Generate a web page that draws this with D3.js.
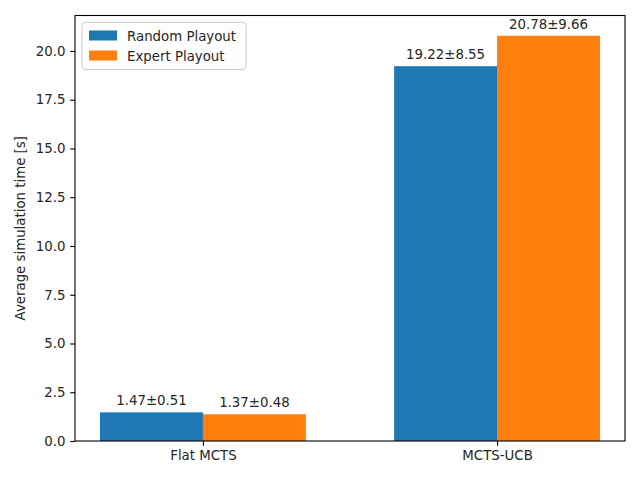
<!DOCTYPE html>
<html lang="en">
<head>
  <meta charset="utf-8">
  <script src="https://d3js.org/d3.v7.min.js"></script>
  <style>
    body { margin: 0; background: #fff; }
    text { font-family: "DejaVu Sans", sans-serif; fill: #262626; }
  </style>
</head>
<body>
  <script>
    // data
    var categories = ["Flat MCTS", "MCTS-UCB"];
    var seriesNames = ["Random Playout", "Expert Playout"];
    var randomMeans = [1.47, 19.22];
    var randomStd = [0.51, 8.55];
    var expertMeans = [1.37, 20.78];
    var expertStd = [0.48, 9.66];
    var yTicks = [0, 2.5, 5, 7.5, 10, 12.5, 15, 17.5, 20];
    var colors = ["#1f77b4", "#ff7f0e"];

    const W = 640, H = 480;
    const m = { left: 75, right: 15, top: 15.5, bottom: 39 };
    const iw = W - m.left - m.right, ih = H - m.top - m.bottom;
    const barW = 0.35;

    const svg = d3.select("body").append("svg")
      .attr("width", W).attr("height", H);
    const g = svg.append("g").attr("transform", "translate(" + m.left + "," + m.top + ")");

    // matplotlib-like 5% margins
    const xMin = -barW, xMax = categories.length - 1 + barW;
    const xPad = (xMax - xMin) * 0.05;
    const x = d3.scaleLinear().domain([xMin - xPad, xMax + xPad]).range([0, iw]);
    const yTop = d3.max(randomMeans.concat(expertMeans)) * 1.05;
    const y = d3.scaleLinear().domain([0, yTop]).range([ih, 0]);

    var series = [
      { name: seriesNames[0], means: randomMeans, std: randomStd, offset: -barW / 2 },
      { name: seriesNames[1], means: expertMeans, std: expertStd, offset: barW / 2 }
    ];

    series.forEach(function (s, si) {
      categories.forEach(function (c, i) {
        var cx = i + s.offset;
        g.append("rect")
          .attr("x", x(cx - barW / 2))
          .attr("width", x(cx + barW / 2) - x(cx - barW / 2))
          .attr("y", y(s.means[i]))
          .attr("height", y(0) - y(s.means[i]))
          .attr("fill", colors[si]);
        g.append("text")
          .attr("x", x(cx))
          .attr("y", y(s.means[i]) - 7)
          .attr("text-anchor", "middle")
          .style("font-size", "13.33px")
          .text(s.means[i].toFixed(2) + "\u00b1" + s.std[i].toFixed(2));
      });
    });

    // axes
    const yAxis = g.append("g").call(d3.axisLeft(y).tickValues(yTicks)
      .tickFormat(d3.format(".1f")).tickSize(4.8).tickPadding(4.8));
    const xAxis = g.append("g").attr("transform", "translate(0," + ih + ")")
      .call(d3.axisBottom(x).tickValues(d3.range(categories.length))
        .tickFormat(function (d) { return categories[d]; }).tickSize(4.8).tickPadding(4.8));
    [xAxis, yAxis].forEach(function (a) {
      a.selectAll("text").style("font-size", "13.33px").style("font-family", "DejaVu Sans").attr("fill", "#262626");
      a.selectAll("line").attr("stroke", "#000").attr("stroke-width", 1.1);
      a.select(".domain").remove();
    });

    // frame
    g.append("rect").attr("width", iw).attr("height", ih)
      .attr("fill", "none").attr("stroke", "#000").attr("stroke-width", 1.1);

    // y label
    svg.append("text")
      .attr("transform", "translate(25," + (m.top + ih / 2) + ") rotate(-90)")
      .attr("text-anchor", "middle")
      .style("font-size", "13.33px")
      .text("Average simulation time [s]");

    // legend
    const lg = g.append("g").attr("transform", "translate(7,7)");
    lg.append("rect").attr("width", 164).attr("height", 47).attr("rx", 3)
      .attr("fill", "#fff").attr("fill-opacity", 0.8)
      .attr("stroke", "#ccc").attr("stroke-width", 1);
    seriesNames.forEach(function (n, i) {
      lg.append("rect").attr("x", 7).attr("y", 8 + i * 20).attr("width", 28).attr("height", 10)
        .attr("fill", colors[i]);
      lg.append("text").attr("x", 45).attr("y", 18 + i * 20)
        .style("font-size", "13.33px").text(n);
    });
  </script>
</body>
</html>
